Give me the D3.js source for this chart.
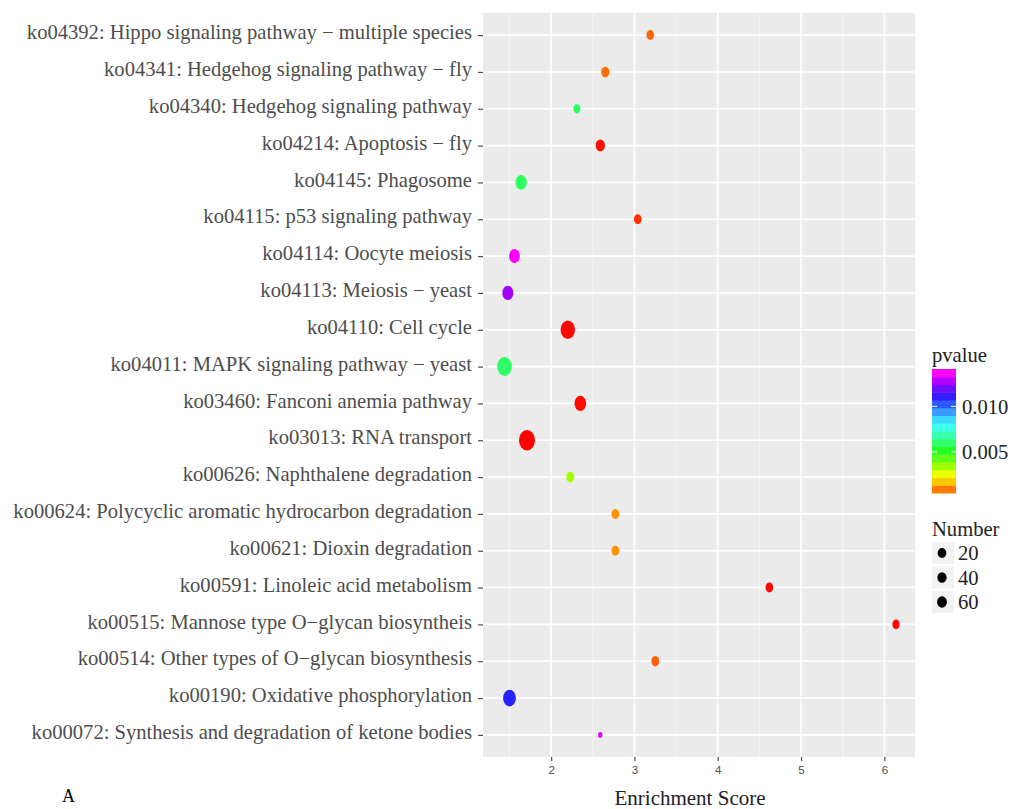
<!DOCTYPE html>
<html><head><meta charset="utf-8">
<script src="https://cdn.jsdelivr.net/npm/d3@7/dist/d3.min.js"></script>
<style>body{margin:0;background:#fff;} svg{display:block;}</style>
</head><body>
<svg id="chart" width="1013" height="809"></svg>
<script>
// ---- data (listed top to bottom as in the picture) ----
const pathways = [
  "ko04392: Hippo signaling pathway \u2212 multiple species",
  "ko04341: Hedgehog signaling pathway \u2212 fly",
  "ko04340: Hedgehog signaling pathway",
  "ko04214: Apoptosis \u2212 fly",
  "ko04145: Phagosome",
  "ko04115: p53 signaling pathway",
  "ko04114: Oocyte meiosis",
  "ko04113: Meiosis \u2212 yeast",
  "ko04110: Cell cycle",
  "ko04011: MAPK signaling pathway \u2212 yeast",
  "ko03460: Fanconi anemia pathway",
  "ko03013: RNA transport",
  "ko00626: Naphthalene degradation",
  "ko00624: Polycyclic aromatic hydrocarbon degradation",
  "ko00621: Dioxin degradation",
  "ko00591: Linoleic acid metabolism",
  "ko00515: Mannose type O\u2212glycan biosyntheis",
  "ko00514: Other types of O\u2212glycan biosynthesis",
  "ko00190: Oxidative phosphorylation",
  "ko00072: Synthesis and degradation of ketone bodies"
];
const enrichment = [3.19, 2.65, 2.31, 2.59, 1.64, 3.04, 1.56, 1.48, 2.20, 1.44,
                    2.35, 1.71, 2.23, 2.77, 2.77, 4.62, 6.14, 3.25, 1.50, 2.59];
const numbers    = [15, 17, 13, 22, 33, 15, 30, 31, 53, 55,
                    35, 65, 17, 15, 15, 15, 14, 16, 42, 5];
const pvalues    = [0.00113, 0.0012, 0.0063, 0.0002, 0.0063, 0.0005, 0.0141, 0.0131, 0.00005, 0.0064,
                    0.0001, 0.00001, 0.0039, 0.0016, 0.0016, 0.0001, 0.0001, 0.00105, 0.0113, 0.0138];
const xTicks = [2, 3, 4, 5, 6];
const xMinor = [1.5, 2.5, 3.5, 4.5, 5.5];
const pTicks = [0.005, 0.010];
const pLimits = [0.0005, 0.0141];
const sizeBreaks = [20, 40, 60];

// ---- layout ----
const svg = d3.select("#chart");
const P = {left: 483, right: 915, top: 13, bottom: 757};
const serif = "'Liberation Serif','Times New Roman',serif";
const FS = 20.6;

const x = d3.scaleLinear().domain([1.182, 6.368]).range([P.left, P.right]);
const y = d3.scalePoint().domain(pathways).range([P.top, P.bottom]).padding(0.6);
const r = d3.scaleSqrt().domain([0, 80]).range([0, 11.5]);
const aspect = 0.77;
const rainbow = t => {
  const h = 300 * t;
  const l = 0.5 + 0.12 * Math.max(0, Math.sin(Math.PI * (h - 80) / 200));
  return d3.hsl(h, 1, l).toString();
};
const color = d3.scaleSequential(rainbow).domain([0, 0.0141]).clamp(true);

// panel
svg.append("rect").attr("x", P.left).attr("y", P.top)
  .attr("width", P.right - P.left).attr("height", P.bottom - P.top).attr("fill", "#EBEBEB");

// grid
svg.append("g").selectAll("line").data(xMinor).join("line")
  .attr("x1", d => x(d)).attr("x2", d => x(d)).attr("y1", P.top).attr("y2", P.bottom)
  .attr("stroke", "#F7F7F7").attr("stroke-width", 0.8);
svg.append("g").selectAll("line").data(xTicks).join("line")
  .attr("x1", d => x(d)).attr("x2", d => x(d)).attr("y1", P.top).attr("y2", P.bottom)
  .attr("stroke", "#fff").attr("stroke-width", 1.6);
svg.append("g").selectAll("line").data(pathways).join("line")
  .attr("x1", P.left).attr("x2", P.right).attr("y1", d => y(d)).attr("y2", d => y(d))
  .attr("stroke", "#fff").attr("stroke-width", 1.6);

// x axis
const xAxis = d3.axisBottom(x).tickValues(xTicks).tickSize(4).tickPadding(5).tickFormat(d3.format("d"));
const gx = svg.append("g").attr("transform", `translate(0,${P.bottom})`).call(xAxis);
gx.select(".domain").remove();
gx.selectAll(".tick line").attr("stroke", "#4D4D4D").attr("stroke-width", 1.2);
gx.selectAll(".tick text").attr("fill", "#4D4D4D").attr("font-size", 11.5)
  .attr("font-family", "'Liberation Sans',Arial,sans-serif");

// y axis
const yAxis = d3.axisLeft(y).tickSize(5).tickPadding(6);
const gy = svg.append("g").attr("transform", `translate(${P.left},0)`).call(yAxis);
gy.select(".domain").remove();
gy.selectAll(".tick line").attr("stroke", "#4D4D4D").attr("stroke-width", 1.2);
gy.selectAll(".tick text").attr("fill", "#4D4D4D").attr("font-size", FS)
  .attr("font-family", serif).attr("dy", "0.18em");

// points
svg.append("g").selectAll("ellipse").data(pathways).join("ellipse")
  .attr("cx", (d, i) => x(enrichment[i])).attr("cy", d => y(d))
  .attr("rx", (d, i) => r(numbers[i]) * aspect).attr("ry", (d, i) => r(numbers[i]))
  .attr("fill", (d, i) => color(pvalues[i]));

// x title
svg.append("text").attr("x", 690).attr("y", 805)
  .attr("text-anchor", "middle").attr("font-family", serif).attr("font-size", 21)
  .attr("fill", "#222").text("Enrichment Score");

// panel label
svg.append("text").attr("x", 62).attr("y", 802).attr("font-family", serif)
  .attr("font-size", 18).attr("fill", "#000").text("A");

// ---- colour legend ----
const L = {x: 932, w: 24, top: 369, bottom: 493};
svg.append("text").attr("x", L.x).attr("y", 362).attr("font-family", serif)
  .attr("font-size", FS).attr("fill", "#222").text("pvalue");
const cy = d3.scaleLinear().domain(pLimits).range([L.bottom, L.top]);
const nb = 16;
const bandEdges = d3.range(nb + 1).map(i => pLimits[0] + (pLimits[1] - pLimits[0]) * i / nb);
svg.append("g").selectAll("rect").data(d3.range(nb)).join("rect")
  .attr("x", L.x).attr("width", L.w)
  .attr("y", i => cy(bandEdges[i + 1])).attr("height", i => cy(bandEdges[i]) - cy(bandEdges[i + 1]) + 0.5)
  .attr("fill", i => color(bandEdges[i + 1]));
const lg = svg.append("g");
pTicks.forEach(p => {
  lg.append("line").attr("x1", L.x).attr("x2", L.x + 5).attr("y1", cy(p)).attr("y2", cy(p))
    .attr("stroke", "#fff").attr("stroke-width", 1);
  lg.append("line").attr("x1", L.x + L.w - 5).attr("x2", L.x + L.w).attr("y1", cy(p)).attr("y2", cy(p))
    .attr("stroke", "#fff").attr("stroke-width", 1);
  lg.append("text").attr("x", L.x + L.w + 6).attr("y", cy(p)).attr("dy", "0.35em")
    .attr("font-family", serif).attr("font-size", FS).attr("fill", "#222")
    .text(d3.format(".3f")(p));
});

// ---- size legend ----
svg.append("text").attr("x", 932).attr("y", 536).attr("font-family", serif)
  .attr("font-size", FS).attr("fill", "#222").text("Number");
const ly = d3.scalePoint().domain(sizeBreaks).range([553, 602]);
const lr = d3.scaleLinear().domain([20, 60]).range([5, 5.65]);
const sg = svg.append("g");
sg.selectAll("rect").data(sizeBreaks).join("rect")
  .attr("x", 932).attr("y", d => ly(d) - 11).attr("width", 22).attr("height", 22)
  .attr("fill", "#F2F2F2");
sg.selectAll("ellipse").data(sizeBreaks).join("ellipse")
  .attr("cx", 942).attr("cy", d => ly(d)).attr("rx", d => lr(d) * 0.87).attr("ry", d => lr(d))
  .attr("fill", "#000");
sg.selectAll("text").data(sizeBreaks).join("text")
  .attr("x", 958).attr("y", d => ly(d)).attr("dy", "0.35em")
  .attr("font-family", serif).attr("font-size", FS).attr("fill", "#222").text(d => d);
</script>
</body></html>
